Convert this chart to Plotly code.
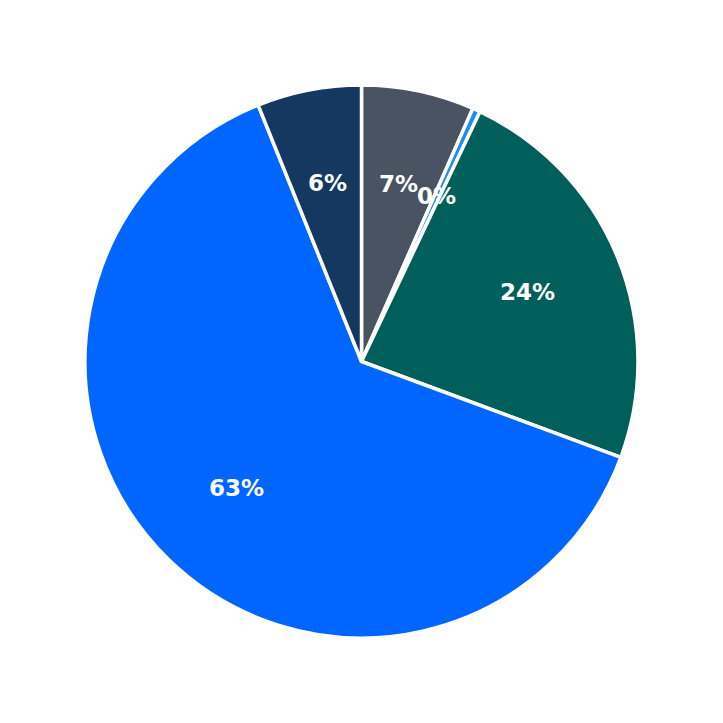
import numpy as np
import plotly.graph_objects as go

# slice data, clockwise from 12 o'clock
labels = ["A", "B", "C", "D", "E"]
values = [6.6, 0.45, 23.6, 63.3, 6.1]
colors = ["#4a5361", "#1e8cf0", "#005f5b", "#0066ff", "#14385f"]

fig = go.Figure()
fig.add_trace(go.Pie(
    labels=labels,
    values=values,
    sort=False,
    direction="clockwise",
    rotation=0,
    textinfo="none",
    hoverinfo="label+percent",
    marker=dict(colors=colors, line=dict(color="white", width=3.5)),
    showlegend=False,
))

# percent labels at 0.65 of radius, middle of each slice
total = sum(values)
cum = np.cumsum([0] + values)
for i, v in enumerate(values):
    mid = (cum[i] + v / 2) / total * 2 * np.pi
    x = 0.5 + 0.5 * 0.65 * np.sin(mid)
    y = 0.5 + 0.5 * 0.65 * np.cos(mid)
    fig.add_annotation(
        x=x, y=y, xref="paper", yref="paper",
        xanchor="center", yanchor="middle", yshift=2,
        text=f"<b>{v / total * 100:.0f}%</b>",
        showarrow=False,
        font=dict(family="DejaVu Sans", size=23, color="white"),
    )

fig.update_layout(
    width=723,
    height=723,
    margin=dict(l=77, r=93, t=77, b=93),
    paper_bgcolor="white",
    plot_bgcolor="white",
)

fig.write_html("out.html")
